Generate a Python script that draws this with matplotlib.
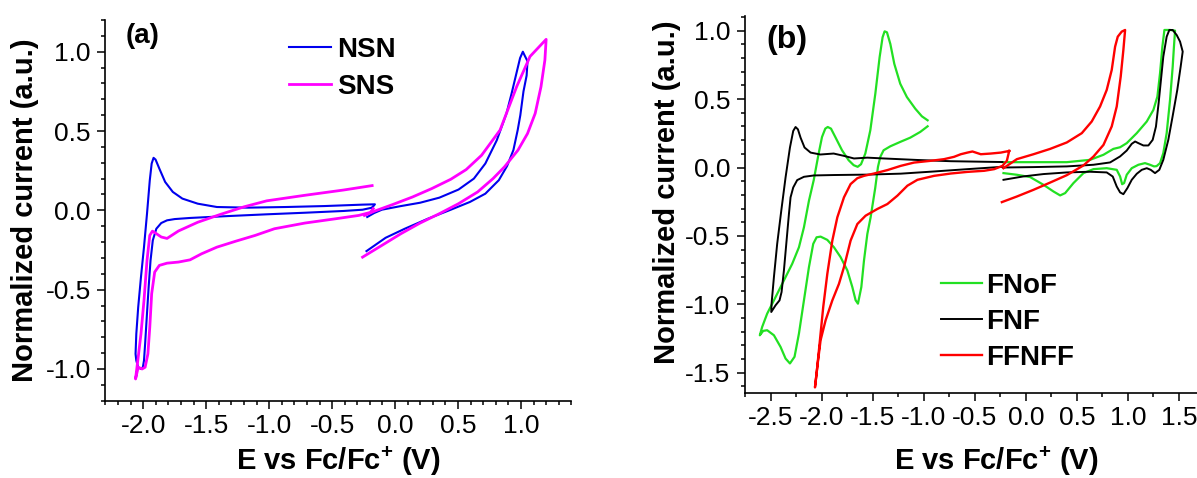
import matplotlib
matplotlib.use("Agg")
import matplotlib.pyplot as plt
from matplotlib.ticker import MultipleLocator, FormatStrFormatter

plt.rcParams['font.family'] = 'sans-serif'
plt.rcParams['font.sans-serif'] = ['Liberation Sans', 'DejaVu Sans']
plt.rcParams['mathtext.fontset'] = 'custom'
plt.rcParams['mathtext.rm'] = 'Liberation Sans'
plt.rcParams['mathtext.bf'] = 'Liberation Sans:bold'
plt.rcParams['axes.unicode_minus'] = False

# ---------------- (a) NSN / SNS ----------------
# cathodic loops
nsn_red_E = [-0.182, -0.258, -0.41, -0.715, -1.019, -1.324, -1.628, -1.75, -1.811, -1.857, -1.896, -1.924,
             -1.942, -1.957, -1.972, -1.985, -1.994, -2.003, -2.018, -2.04, -2.055, -2.061, -2.055, -2.04,
             -2.018, -1.994, -1.97, -1.948, -1.933, -1.918, -1.902, -1.872, -1.826, -1.765, -1.689, -1.567,
             -1.415, -1.171, -0.867, -0.562, -0.258, -0.16, -0.182]
nsn_red_I = [0.017, 0.004, -0.004, -0.015, -0.025, -0.036, -0.048, -0.055, -0.063, -0.08, -0.116, -0.189,
             -0.316, -0.484, -0.674, -0.842, -0.947, -0.989, -1.0, -0.989, -0.947, -0.905, -0.779, -0.611,
             -0.421, -0.232, -0.021, 0.189, 0.295, 0.331, 0.32, 0.263, 0.179, 0.116, 0.074, 0.042,
             0.021, 0.017, 0.021, 0.027, 0.036, 0.038, 0.017]

sns_red_E = [-0.182, -0.41, -0.715, -1.019, -1.2, -1.385, -1.567, -1.72, -1.811, -1.857, -1.903, -1.927,
             -1.948, -1.97, -1.994, -2.018, -2.04, -2.061, -2.04, -2.009, -1.985, -1.963, -1.948, -1.933,
             -1.909, -1.872, -1.811, -1.72, -1.628, -1.537, -1.415, -1.263, -1.111, -0.958, -0.715, -0.471,
             -0.288, -0.197, -0.173]
sns_red_I = [0.156, 0.128, 0.095, 0.06, 0.022, -0.025, -0.075, -0.13, -0.177, -0.168, -0.143, -0.131,
             -0.158, -0.316, -0.568, -0.779, -0.926, -1.063, -0.989, -1.0, -0.989, -0.905, -0.737, -0.526,
             -0.389, -0.347, -0.333, -0.326, -0.312, -0.274, -0.232, -0.194, -0.158, -0.116, -0.08, -0.053,
             -0.032, -0.013, 0.011]

# anodic loops
nsn_ox_E = [-0.221, -0.166, -0.105, 0.047, 0.199, 0.352, 0.504, 0.626, 0.717, 0.808, 0.885, 0.926, 0.993,
            1.015, 1.03, 1.052, 1.045, 1.02, 0.995, 0.974, 0.94, 0.89, 0.824, 0.717, 0.595, 0.443, 0.26,
            0.077, -0.075, -0.227]
nsn_ox_I = [-0.042, -0.017, 0.004, 0.027, 0.048, 0.08, 0.131, 0.2, 0.295, 0.442, 0.611, 0.738, 0.96,
            1.0, 0.975, 0.94, 0.85, 0.75, 0.6, 0.506, 0.38, 0.28, 0.19, 0.105, 0.053, 0.004, -0.053,
            -0.116, -0.173, -0.257]

sns_ox_E = [-0.243, -0.166, -0.014, 0.138, 0.291, 0.443, 0.565, 0.687, 0.834, 0.966, 1.072, 1.2,
            1.19, 1.159, 1.113, 1.052, 0.976, 0.869, 0.778, 0.656, 0.504, 0.352, 0.199, 0.047, -0.105,
            -0.258]
sns_ox_I = [-0.032, -0.006, 0.038, 0.084, 0.137, 0.196, 0.257, 0.347, 0.506, 0.78, 0.97, 1.078,
            0.947, 0.779, 0.611, 0.484, 0.379, 0.274, 0.2, 0.116, 0.042, -0.021, -0.08, -0.147, -0.221,
            -0.295]

# ---------------- (b) FNoF / FNF / FFNFF ----------------
fnof_red_E = [-0.962, -1.034, -1.132, -1.23, -1.327, -1.393, -1.425, -1.448, -1.475, -1.52, -1.552, -1.585,
              -1.611, -1.644, -1.667, -1.699, -1.748, -1.814, -1.879, -1.944, -2.01, -2.049, -2.082, -2.124,
              -2.173, -2.222, -2.265, -2.31, -2.353, -2.402, -2.467, -2.533, -2.572, -2.605,
              -2.582, -2.533, -2.467, -2.369, -2.288, -2.222, -2.173, -2.124, -2.077, -2.029, -1.996, -1.964,
              -1.94, -1.908, -1.866, -1.8, -1.735, -1.686, -1.647, -1.614, -1.572, -1.523, -1.474, -1.432,
              -1.403, -1.383, -1.36, -1.327, -1.288, -1.23, -1.165, -1.083, -1.018, -0.962]
fnof_red_I = [0.301, 0.26, 0.218, 0.187, 0.155, 0.126, 0.078, 0.005, -0.15, -0.364, -0.485, -0.68,
              -0.874, -0.995, -0.97, -0.874, -0.752, -0.655, -0.583, -0.529, -0.505, -0.51, -0.558, -0.728,
              -0.971, -1.214, -1.383, -1.432, -1.396, -1.311, -1.226, -1.189, -1.194, -1.226,
              -1.165, -1.068, -0.971, -0.825, -0.704, -0.583, -0.437, -0.243, -0.092, 0.102, 0.223, 0.284,
              0.296, 0.284, 0.223, 0.126, 0.053, 0.017, 0.005, 0.024, 0.102, 0.272, 0.539, 0.806,
              0.951, 0.995, 0.988, 0.903, 0.757, 0.612, 0.515, 0.43, 0.374, 0.345]

fnf_red_E = [-0.229, -0.572, -0.899, -1.225, -1.552, -1.879, -2.075, -2.173, -2.239, -2.278, -2.304, -2.32,
             -2.343, -2.369, -2.392, -2.412, -2.451, -2.493,
             -2.49, -2.467, -2.435, -2.395, -2.353, -2.31, -2.278, -2.255, -2.232, -2.206, -2.167, -2.108,
             -2.012, -1.882, -1.781, -1.683, -1.552, -1.389, -1.062, -0.735, -0.408, -0.229]
fnf_red_I = [0.005, -0.012, -0.029, -0.045, -0.052, -0.055, -0.058, -0.068, -0.092, -0.146, -0.218, -0.34,
             -0.534, -0.752, -0.91, -0.971, -1.007, -1.056,
             -0.995, -0.801, -0.558, -0.316, -0.073, 0.146, 0.267, 0.296, 0.279, 0.218, 0.146, 0.109,
             0.095, 0.102, 0.085, 0.066, 0.072, 0.066, 0.055, 0.046, 0.042, 0.04]

ffnff_red_E = [-0.163, -0.245, -0.343, -0.441, -0.523, -0.572, -0.637, -0.703, -0.801, -0.931, -1.095, -1.225,
               -1.356, -1.487, -1.585, -1.65, -1.716, -1.781, -1.846, -1.895, -1.944, -1.984, -2.023, -2.049,
               -2.065,
               -2.042, -2.01, -1.961, -1.895, -1.83, -1.781, -1.716, -1.65, -1.569, -1.454, -1.356, -1.258,
               -1.16, -1.062, -0.899, -0.735, -0.572, -0.408, -0.31, -0.229, -0.186, -0.163]
ffnff_red_I = [0.121, 0.109, 0.102, 0.097, 0.117, 0.109, 0.097, 0.078, 0.061, 0.049, 0.036, 0.012,
               -0.019, -0.044, -0.061, -0.078, -0.121, -0.218, -0.364, -0.534, -0.777, -1.019, -1.311, -1.505,
               -1.607,
               -1.456, -1.262, -1.117, -0.971, -0.85, -0.728, -0.534, -0.413, -0.352, -0.303, -0.267, -0.206,
               -0.133, -0.09, -0.061, -0.044, -0.032, -0.024, -0.012, 0.012, 0.049, 0.121]

fnof_ox_E = [-0.225, 0.075, 0.401, 0.629, 0.76, 0.857, 0.923, 0.988, 1.086, 1.184, 1.249, 1.288, 1.314,
             1.337, 1.357, 1.412, 1.461, 1.45, 1.438, 1.412, 1.379, 1.346, 1.314, 1.28, 1.255, 1.216,
             1.167, 1.102, 1.037, 0.988, 0.962, 0.943, 0.923, 0.89, 0.792, 0.662, 0.564, 0.466, 0.385,
             0.336, 0.27, 0.172, 0.042, -0.088, -0.219]
fnof_ox_I = [0.039, 0.039, 0.039, 0.056, 0.093, 0.136, 0.148, 0.178, 0.251, 0.336, 0.421, 0.518, 0.689,
             0.883, 1.005, 1.005, 1.0, 0.88, 0.737, 0.494, 0.251, 0.105, 0.032, 0.01, 0.008, 0.02,
             0.032, 0.02, -0.005, -0.053, -0.114, -0.122, -0.066, -0.017, -0.005, -0.012, -0.041, -0.114, -0.187,
             -0.204, -0.175, -0.126, -0.07, -0.053, -0.041]

fnf_ox_E = [-0.225, 0.075, 0.401, 0.662, 0.825, 0.923, 0.988, 1.037, 1.07, 1.102, 1.151, 1.2, 1.242,
            1.274, 1.3, 1.323, 1.346, 1.379, 1.405, 1.438, 1.477, 1.51, 1.536, 1.516, 1.483, 1.437,
            1.395, 1.346, 1.307, 1.265, 1.223, 1.184, 1.135, 1.086, 1.037, 0.994, 0.955, 0.923, 0.89,
            0.851, 0.792, 0.629, 0.401, 0.172, -0.023, -0.219]
fnf_ox_I = [0.0, 0.003, 0.008, 0.02, 0.037, 0.081, 0.124, 0.173, 0.19, 0.178, 0.161, 0.161, 0.202,
            0.299, 0.47, 0.64, 0.81, 0.956, 1.005, 1.005, 0.968, 0.92, 0.847, 0.737, 0.567, 0.373,
            0.202, 0.056, -0.017, -0.041, -0.017, -0.005, -0.017, -0.046, -0.09, -0.151, -0.195, -0.182, -0.139,
            -0.066, -0.036, -0.031, -0.036, -0.048, -0.065, -0.09]

ffnff_ox_E = [-0.235, -0.088, 0.075, 0.238, 0.401, 0.564, 0.662, 0.76, 0.841, 0.89, 0.929, 0.955, 0.972,
              0.939, 0.9, 0.874, 0.841, 0.792, 0.727, 0.645, 0.548, 0.401, 0.238, 0.075, -0.088, -0.219]
ffnff_ox_I = [-0.253, -0.212, -0.163, -0.11, -0.056, 0.015, 0.08, 0.165, 0.3, 0.446, 0.665, 0.859, 1.005,
              0.993, 0.956, 0.883, 0.713, 0.567, 0.446, 0.336, 0.251, 0.183, 0.136, 0.097, 0.061, -0.005]

BLUE = '#0000ee'
MAGENTA = '#ff00ff'
GREEN = '#22e022'
BLACK = '#000000'
RED = '#ff0000'

fig = plt.figure(figsize=(11.97, 4.78), dpi=100)
ax1 = fig.add_axes([0.0881, 0.1617, 0.3892, 0.7965])
ax2 = fig.add_axes([0.6224, 0.1772, 0.3776, 0.7893])


def style(ax, xminor):
    for s in ['top', 'right']:
        ax.spines[s].set_visible(False)
    for s in ['left', 'bottom']:
        ax.spines[s].set_linewidth(1.2)
    ax.xaxis.set_major_locator(MultipleLocator(0.5))
    ax.xaxis.set_minor_locator(MultipleLocator(xminor))
    ax.yaxis.set_major_locator(MultipleLocator(0.5))
    ax.yaxis.set_minor_locator(MultipleLocator(0.1))
    ax.xaxis.set_major_formatter(FormatStrFormatter('%.1f'))
    ax.yaxis.set_major_formatter(FormatStrFormatter('%.1f'))
    ax.tick_params(which='major', direction='out', length=5.5, width=1.1, labelsize=19)
    ax.tick_params(which='minor', direction='out', length=2.8, width=1.1)
    ax.tick_params(axis='x', pad=4)
    ax.tick_params(axis='y', pad=5)


# panel (a)
ax1.plot(nsn_red_E, nsn_red_I, color=BLUE, lw=1.5, label='NSN')
ax1.plot(nsn_ox_E, nsn_ox_I, color=BLUE, lw=1.5)
ax1.plot(sns_red_E, sns_red_I, color=MAGENTA, lw=2.0, label='SNS')
ax1.plot(sns_ox_E, sns_ox_I, color=MAGENTA, lw=2.0)
ax1.set_xlim(-2.3, 1.4)
ax1.set_ylim(-1.2, 1.2)
style(ax1, 0.1)

# panel (b)
ax2.plot(fnof_red_E, fnof_red_I, color=GREEN, lw=1.6, label='FNoF')
ax2.plot(fnof_ox_E, fnof_ox_I, color=GREEN, lw=1.6)
ax2.plot(fnf_red_E, fnf_red_I, color=BLACK, lw=1.4, label='FNF')
ax2.plot(fnf_ox_E, fnf_ox_I, color=BLACK, lw=1.4)
ax2.plot(ffnff_red_E, ffnff_red_I, color=RED, lw=1.7, label='FFNFF')
ax2.plot(ffnff_ox_E, ffnff_ox_I, color=RED, lw=1.7)
ax2.set_xlim(-2.75, 1.676)
ax2.set_ylim(-1.65, 1.107)
style(ax2, 0.25)

xlab = 'E vs Fc/Fc$^{\\mathbf{+}}$ (V)'
ylab = 'Normalized current (a.u.)'
for ax, xl, yl in [(ax1, (0.5, -0.182), (-0.155, 0.5)), (ax2, (0.555, -0.203), (-0.155, 0.5335))]:
    ax.set_xlabel(xlab, fontsize=21, fontweight='bold')
    ax.set_ylabel(ylab, fontsize=21, fontweight='bold')
    ax.xaxis.set_label_coords(*xl)
    ax.yaxis.set_label_coords(*yl)
    ax.xaxis.label.set_verticalalignment('baseline')
    ax.yaxis.label.set_verticalalignment('baseline')

ax1.text(0.0796, 0.9567, '(a)', transform=ax1.transAxes, fontsize=20, fontweight='bold',
         ha='center', va='center')
ax2.text(0.0929, 0.9364, '(b)', transform=ax2.transAxes, fontsize=23, fontweight='bold',
         ha='center', va='center')

leg_font = {'weight': 'bold', 'size': 20}
ax1.legend(loc='upper left', bbox_to_anchor=(0.394, 0.956), frameon=False, borderpad=0,
           borderaxespad=0, handlelength=1.5, handletextpad=0.22, labelspacing=0.39, prop=leg_font)
ax2.legend(loc='upper left', bbox_to_anchor=(0.433, 0.320), frameon=False, borderpad=0,
           borderaxespad=0, handlelength=1.5, handletextpad=0.15, labelspacing=0.37, prop=leg_font)

fig.savefig('out.png', dpi=100)
